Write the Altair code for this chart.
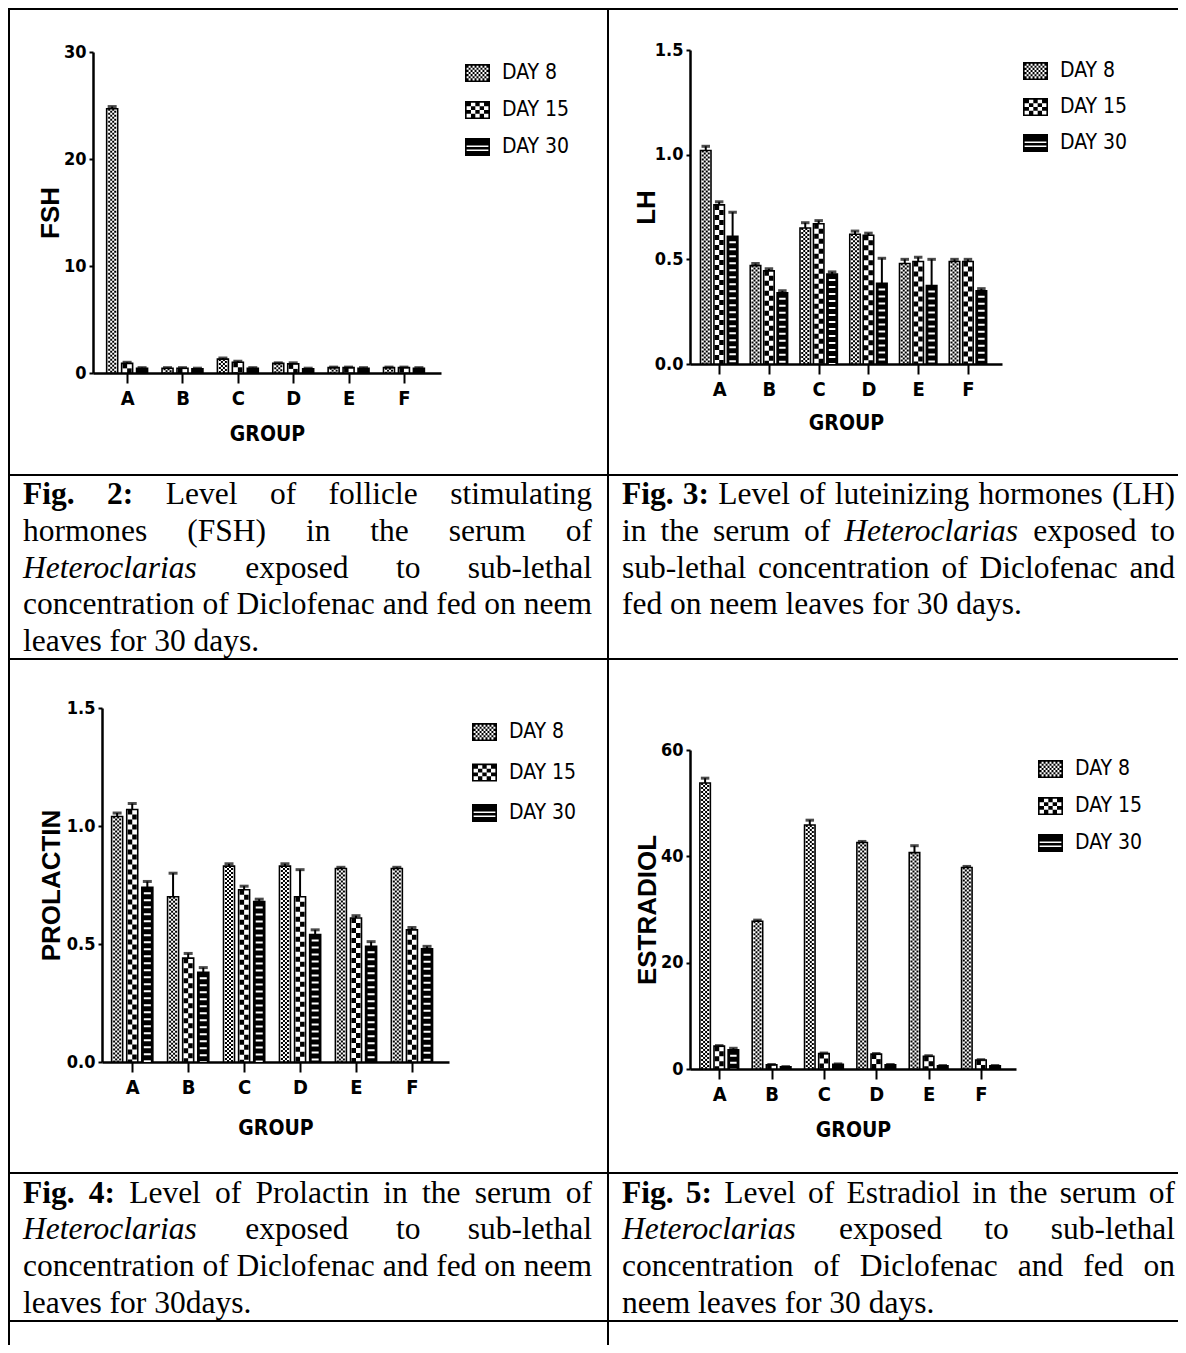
import json
import altair as alt
import pandas as pd

# ---------------- data ----------------
groups = ["A", "B", "C", "D", "E", "F"]
days = ["DAY 8", "DAY 15", "DAY 30"]

fsh_day8 = [24.7, 0.45, 1.3, 0.9, 0.5, 0.5]
fsh_day15 = [0.9, 0.45, 1.0, 0.85, 0.5, 0.5]
fsh_day30 = [0.45, 0.4, 0.45, 0.4, 0.45, 0.45]
fsh_err8 = [0.2, 0.05, 0.1, 0.05, 0.05, 0.05]
fsh_err15 = [0.1, 0.05, 0.1, 0.1, 0.05, 0.05]
fsh_err30 = [0.05, 0.05, 0.05, 0.05, 0.05, 0.05]

lh_day8 = [1.02, 0.47, 0.65, 0.62, 0.48, 0.49]
lh_day15 = [0.76, 0.445, 0.67, 0.615, 0.49, 0.49]
lh_day30 = [0.61, 0.34, 0.43, 0.385, 0.375, 0.35]
lh_err8 = [0.02, 0.01, 0.025, 0.015, 0.02, 0.01]
lh_err15 = [0.015, 0.01, 0.015, 0.01, 0.02, 0.01]
lh_err30 = [0.115, 0.01, 0.01, 0.12, 0.125, 0.01]

prl_day8 = [1.04, 0.70, 0.83, 0.83, 0.82, 0.82]
prl_day15 = [1.07, 0.44, 0.73, 0.70, 0.61, 0.56]
prl_day30 = [0.74, 0.38, 0.68, 0.54, 0.49, 0.48]
prl_err8 = [0.015, 0.10, 0.01, 0.01, 0.005, 0.005]
prl_err15 = [0.025, 0.02, 0.015, 0.115, 0.01, 0.01]
prl_err30 = [0.025, 0.02, 0.01, 0.02, 0.02, 0.01]

est_day8 = [53.8, 27.8, 45.9, 42.6, 40.7, 37.9]
est_day15 = [4.3, 0.8, 2.9, 2.8, 2.4, 1.7]
est_day30 = [3.6, 0.4, 0.9, 0.8, 0.6, 0.6]
est_err8 = [0.9, 0.2, 0.9, 0.2, 1.3, 0.2]
est_err15 = [0.1, 0.05, 0.1, 0.1, 0.1, 0.05]
est_err30 = [0.3, 0.05, 0.05, 0.05, 0.05, 0.05]

y_titles = ["FSH", "LH", "PROLACTIN", "ESTRADIOL"]
x_title = "GROUP"

# captions: "*" = bold word, "_" = italic word; flag = justified line
caption_fig2 = [
    ("*Fig. *2: Level of follicle stimulating", True),
    ("hormones (FSH) in the serum of", True),
    ("_Heteroclarias exposed to sub-lethal", True),
    ("concentration of Diclofenac and fed on neem", True),
    ("leaves for 30 days.", False),
]
caption_fig3 = [
    ("*Fig. *3: Level of luteinizing hormones (LH)", True),
    ("in the serum of _Heteroclarias exposed to", True),
    ("sub-lethal concentration of Diclofenac and", True),
    ("fed on neem leaves for 30 days.", False),
]
caption_fig4 = [
    ("*Fig. *4: Level of Prolactin in the serum of", True),
    ("_Heteroclarias exposed to sub-lethal", True),
    ("concentration of Diclofenac and fed on neem", True),
    ("leaves for 30days.", False),
]
caption_fig5 = [
    ("*Fig. *5: Level of Estradiol in the serum of", True),
    ("_Heteroclarias exposed to sub-lethal", True),
    ("concentration of Diclofenac and fed on", True),
    ("neem leaves for 30 days.", False),
]

# ---------------- styling / layout ----------------
NARROW = "Liberation Sans Narrow, DejaVu Sans Condensed, sans-serif"
SANS = "Liberation Sans, Arial, sans-serif"
SERIF = "Liberation Serif, Times New Roman, serif"
CAP_FS = 31.5
DX = 0.27
W_LEFT, W_RIGHT = 599, 571
ROW_H = [466, 184, 514, 148, 25]

# Times-compatible advance widths (per 1000 em) for caption justification
W_R = {' ': 250, '(': 333, ')': 333, '-': 333, '.': 250, ':': 278, 'D': 722, 'E': 611,
       'F': 556, 'H': 722, 'L': 611, 'P': 556, 'S': 556, 'a': 444, 'b': 500, 'c': 444,
       'd': 500, 'e': 444, 'f': 333, 'g': 500, 'h': 500, 'i': 278, 'l': 278, 'm': 778,
       'n': 500, 'o': 500, 'p': 500, 'r': 333, 's': 389, 't': 278, 'u': 500, 'v': 500,
       'x': 500, 'y': 500, 'z': 444}
W_B = {'F': 611, 'i': 278, 'g': 500, '.': 250, ':': 333}
W_I = {'H': 722, 'e': 444, 't': 278, 'r': 389, 'o': 500, 'c': 444, 'l': 278, 'a': 500,
       'i': 278, 's': 389}


def word_width(word, style):
    tbl = {"r": W_R, "b": W_B, "i": W_I}[style]
    return sum(tbl.get(ch, 500) for ch in word) / 1000.0 * CAP_FS


def layout_caption(lines, left, right, base0, step):
    rows = []
    for li, (line, just) in enumerate(lines):
        toks = []
        for tok in line.split(" "):
            if tok.startswith("*"):
                toks.append((tok[1:], "b"))
            elif tok.startswith("_"):
                toks.append((tok[1:], "i"))
            else:
                toks.append((tok, "r"))
        widths = [word_width(t, s) for t, s in toks]
        if just and len(toks) > 1:
            gap = (right - left - sum(widths)) / (len(toks) - 1)
        else:
            gap = 0.25 * CAP_FS
        x = left
        for (t, s), w in zip(toks, widths):
            rows.append({"t": t, "s": s, "x": x, "y": base0 + li * step})
            x += w + gap
    return pd.DataFrame(rows)


def borders(W, H):
    d = pd.DataFrame({"k": [0]})
    top = alt.Chart(d).mark_rect(color="black").encode(
        x=alt.value(0), x2=alt.value(W), y=alt.value(0), y2=alt.value(2))
    left = alt.Chart(d).mark_rect(color="black").encode(
        x=alt.value(0), x2=alt.value(2), y=alt.value(0), y2=alt.value(H))
    return [top, left]


def caption_cell(lines, W, H, left, right, base0, step=36.8):
    df = layout_caption(lines, left, right, base0, step)
    layers = []
    for s, fw, fst in [("r", "normal", "normal"), ("b", "bold", "normal"), ("i", "normal", "italic")]:
        sub = df[df.s == s]
        if len(sub) == 0:
            continue
        layers.append(alt.Chart(sub).mark_text(
            align="left", baseline="alphabetic", font=SERIF, fontSize=CAP_FS,
            fontWeight=fw, fontStyle=fst, color="black").encode(
            x=alt.X("x:Q", scale=None), y=alt.Y("y:Q", scale=None), text="t:N"))
    layers += borders(W, H)
    return alt.layer(*layers).properties(width=W, height=H)


def rect(x0, y0, x1, y1):
    return f"M{x0:.3f},{y0:.3f}H{x1:.3f}V{y1:.3f}H{x0:.3f}Z"


HY, FR = 0.72, 0.13
FRAME = rect(-1, -HY, 1, -HY + FR) + rect(-1, HY - FR, 1, HY) + rect(-1, -HY, -1 + FR, HY) + rect(1 - FR, -HY, 1, HY)


def checker(nx, ny):
    x0, x1, y0, y1 = -1 + FR, 1 - FR, -HY + FR, HY - FR
    cw, ch = (x1 - x0) / nx, (y1 - y0) / ny
    parts = [rect(x0 + i * cw, y0 + j * ch, x0 + (i + 1) * cw, y0 + (j + 1) * ch)
             for i in range(nx) for j in range(ny) if (i + j) % 2 == 0]
    return FRAME + "".join(parts)


SYM8 = checker(11, 7)
SYM15 = checker(5, 4)
SYM30 = FRAME + rect(-1, -HY, 1, -0.12) + rect(-1, 0.0, 1, 0.2) + rect(-1, 0.32, 1, HY)


def hormone_table(v8, v15, v30, e8, e15, e30):
    rows = []
    for di, (vals, errs) in enumerate([(v8, e8), (v15, e15), (v30, e30)]):
        for gi, g in enumerate(groups):
            rows.append({"group": g, "day": days[di], "pos": gi + (di - 1) * DX,
                         "value": vals[gi], "err": errs[gi], "zero": 0.0})
    return pd.DataFrame(rows)


def hormone_cell(df, ytitle, W, H, ax_x, x_end, base, top, xdom, ymax, yticks, yfmt,
                 barw, ytitle_dx, xtitle_dy, leg_x, leg_y0, leg_y1):
    lab_expr = json.dumps(groups) + "[datum.value]"
    xs = alt.Scale(domain=xdom, range=[ax_x, x_end], nice=False, zero=False)
    ys = alt.Scale(domain=[0, ymax], range=[base, top], nice=False, zero=True)
    xaxis = alt.Axis(title=x_title, values=list(range(len(groups))), labelExpr=lab_expr,
                     orient="bottom", offset=base - H, grid=False,
                     tickSize=10, tickWidth=2, tickColor="black",
                     domainColor="black", domainWidth=2.5,
                     labelFont=NARROW, labelFontSize=20, labelFontWeight="bold",
                     labelColor="black", labelBaseline="middle", labelPadding=15,
                     labelAngle=0, labelFlush=False, labelOverlap=False,
                     titleFont=NARROW, titleFontSize=21, titleFontWeight="bold",
                     titleColor="black", titleX=(ax_x + x_end) / 2, titleY=xtitle_dy,
                     titleBaseline="middle")
    yaxis = alt.Axis(title=ytitle, values=yticks, format=yfmt, orient="left",
                     offset=-ax_x, grid=False,
                     tickSize=4, tickWidth=2, tickColor="black",
                     domainColor="black", domainWidth=2.5,
                     labelFont=NARROW, labelFontSize=18, labelFontWeight="bold",
                     labelColor="black", labelPadding=3, labelFlush=False,
                     titleFont=SANS, titleFontSize=26, titleFontWeight="bold",
                     titleColor="black", titleX=ytitle_dx, titleY=(base + top) / 2,
                     titleBaseline="middle", titleAngle=270)
    X = alt.X("pos:Q", scale=xs, axis=xaxis)
    Y = alt.Y("value:Q", scale=ys, axis=yaxis)
    c = alt.Chart(df)
    layers = [c.mark_bar(width=barw, stroke="black", strokeWidth=1.6).encode(
        x=X, y=Y,
        fill=alt.Fill("day:N", scale=alt.Scale(domain=days, range=["white", "white", "black"]),
                      legend=None))]
    d8 = c.transform_filter(alt.datum.day == days[0])
    for xo, off in [(-3, 0), (-1, 2), (1, 0), (3, 2)]:
        layers.append(d8.mark_rule(xOffset=xo, strokeWidth=2, strokeDash=[2, 2],
                                   strokeDashOffset=off, color="black", strokeCap="butt")
                      .encode(x=X, y=Y, y2=alt.Y2("zero")))
    d15 = c.transform_filter(alt.datum.day == days[1])
    for xo, off in [(-2.25, 0), (2.25, 5)]:
        layers.append(d15.mark_rule(xOffset=xo, strokeWidth=4.5, strokeDash=[5, 5],
                                    strokeDashOffset=off, color="black", strokeCap="butt")
                      .encode(x=X, y=Y, y2=alt.Y2("zero")))
    d30 = c.transform_filter(alt.datum.day == days[2])
    layers.append(d30.mark_rule(strokeWidth=barw - 4, strokeDash=[2, 5], strokeDashOffset=2,
                                color="white", strokeCap="butt")
                  .encode(x=X, y=Y, y2=alt.Y2("zero")))
    eb = c.transform_calculate(hi="datum.value + datum.err")
    layers.append(eb.mark_rule(color="black", strokeWidth=2).encode(x=X, y=Y, y2=alt.Y2("hi")))
    layers.append(eb.mark_tick(orient="horizontal", size=barw - 2, thickness=3, color="black")
                  .encode(x=X, y=alt.Y("hi:Q", scale=ys, axis=yaxis)))

    # legend drawn from the day list through its own point scale
    leg = alt.Chart(pd.DataFrame({"day": days}))
    LY = alt.Y("day:N", scale=alt.Scale(domain=days, range=[leg_y0, leg_y1], padding=0), axis=None)
    leg_sym = leg.mark_point(filled=True, size=625, color="black", opacity=1, strokeWidth=0).encode(
        x=alt.value(leg_x + 12.5), y=LY,
        shape=alt.Shape("day:N", scale=alt.Scale(domain=days, range=[SYM8, SYM15, SYM30]),
                        legend=None))
    leg_txt = leg.mark_text(align="left", baseline="middle", font=NARROW, fontSize=21,
                            color="black").encode(x=alt.value(leg_x + 37), y=LY, text="day:N")
    main = alt.layer(*layers, *borders(W, H))
    legend_layer = alt.layer(leg_sym, leg_txt)
    return alt.layer(main, legend_layer).resolve_scale(y="independent").properties(width=W, height=H)


fsh_df = hormone_table(fsh_day8, fsh_day15, fsh_day30, fsh_err8, fsh_err15, fsh_err30)
lh_df = hormone_table(lh_day8, lh_day15, lh_day30, lh_err8, lh_err15, lh_err30)
prl_df = hormone_table(prl_day8, prl_day15, prl_day30, prl_err8, prl_err15, prl_err30)
est_df = hormone_table(est_day8, est_day15, est_day30, est_err8, est_err15, est_err30)

fsh_cell = hormone_cell(fsh_df, y_titles[0], W_LEFT, ROW_H[0], 85, 433, 365, 44,
                        [-0.526, 5.579], 30, [0, 10, 20, 30], "d", 11, -43, 61, 457, 65, 139)
lh_cell = hormone_cell(lh_df, y_titles[1], W_RIGHT, ROW_H[0], 83, 395, 356, 42,
                       [-0.486, 5.584], 1.5, [0, 0.5, 1.0, 1.5], ".1f", 10.5, -44, 59, 416, 63, 135)
prl_cell = hormone_cell(prl_df, y_titles[2], W_LEFT, ROW_H[2], 94, 441, 404, 50,
                        [-0.451, 5.573], 1.5, [0, 0.5, 1.0, 1.5], ".1f", 11, -51, 66, 464, 74, 155)
est_cell = hormone_cell(est_df, y_titles[3], W_RIGHT, ROW_H[2], 83, 409, 411, 92,
                        [-0.463, 5.574], 60, [0, 20, 40, 60], "d", 10.5, -43, 61, 431, 111, 185)

cap2 = caption_cell(caption_fig2, W_LEFT, ROW_H[1], 15, 584, 30)
cap3 = caption_cell(caption_fig3, W_RIGHT, ROW_H[1], 15, 568, 30)
cap4 = caption_cell(caption_fig4, W_LEFT, ROW_H[3], 15, 584, 30.5)
cap5 = caption_cell(caption_fig5, W_RIGHT, ROW_H[3], 15, 568, 30.5)

empty_l = alt.layer(*borders(W_LEFT, ROW_H[4])).properties(width=W_LEFT, height=ROW_H[4])
empty_r = alt.layer(*borders(W_RIGHT, ROW_H[4])).properties(width=W_RIGHT, height=ROW_H[4])

chart = (
    alt.concat(fsh_cell, lh_cell, cap2, cap3, prl_cell, est_cell, cap4, cap5, empty_l, empty_r,
               columns=2, spacing=0, bounds="flush")
    .resolve_scale(x="independent", y="independent", shape="independent", fill="independent")
    .properties(padding=0, background="white")
    .configure_view(strokeWidth=0)
)

chart.save("out.html", embed_options={"renderer": "svg", "actions": False})
